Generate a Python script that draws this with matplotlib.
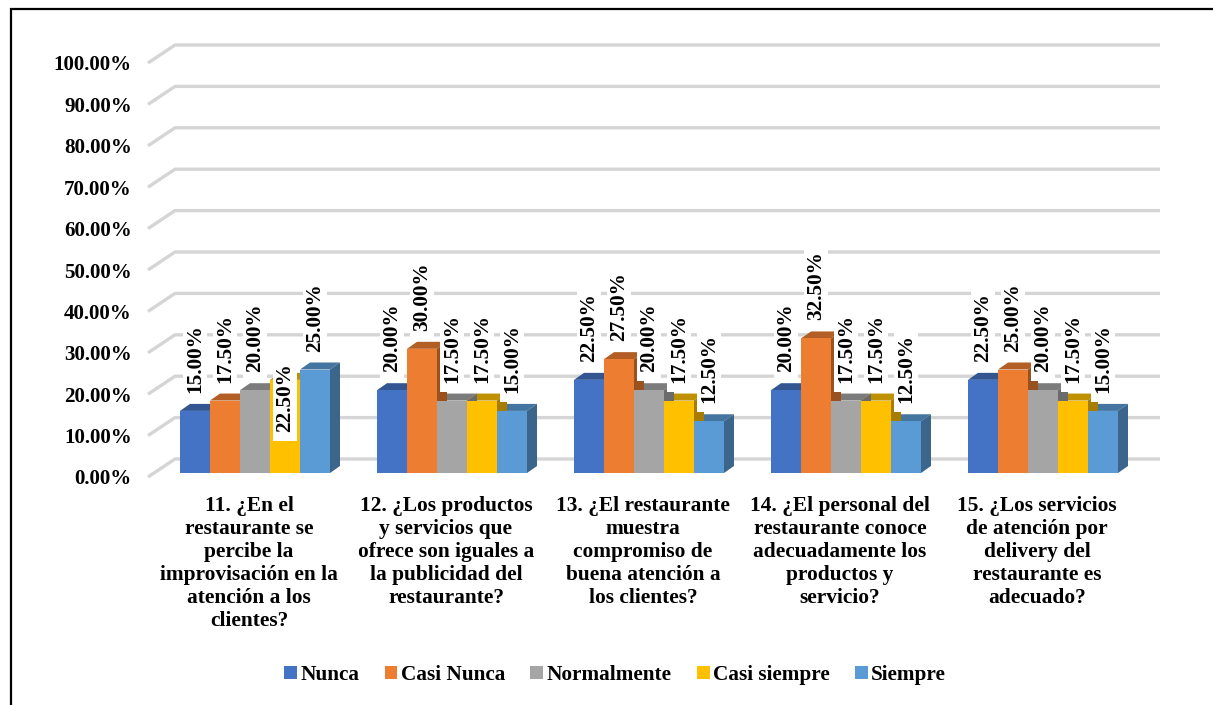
import numpy as np
import matplotlib
matplotlib.use('Agg')
import matplotlib.pyplot as plt
from matplotlib.patches import Polygon, Patch, Rectangle
from matplotlib.ticker import FuncFormatter

plt.rcParams['font.family'] = ['Liberation Serif', 'DejaVu Serif']
plt.rcParams['font.weight'] = 'bold'

# data
categories = ["11. ¿En el\nrestaurante se\npercibe la\nimprovisación en la\natención a los\nclientes?",
              "12. ¿Los productos\ny servicios que\nofrece son iguales a\nla publicidad del\nrestaurante?",
              "13. ¿El restaurante\nmuestra\ncompromiso de\nbuena atención a\nlos clientes?",
              "14. ¿El personal del\nrestaurante conoce\nadecuadamente los\nproductos y\nservicio?",
              "15. ¿Los servicios\nde atención por\ndelivery del\nrestaurante es\nadecuado?"]
series = ["Nunca", "Casi Nunca", "Normalmente", "Casi siempre", "Siempre"]
nunca = [15.0, 20.0, 22.5, 20.0, 22.5]
casi_nunca = [17.5, 30.0, 27.5, 32.5, 25.0]
normalmente = [20.0, 17.5, 20.0, 17.5, 20.0]
casi_siempre = [22.5, 17.5, 17.5, 17.5, 17.5]
siempre = [25.0, 15.0, 12.5, 12.5, 15.0]
values = [nunca, casi_nunca, normalmente, casi_siempre, siempre]
colors = ['#4472C4', '#ED7D31', '#A5A5A5', '#FFC000', '#5B9BD5']
yticks = np.arange(0, 101, 10)

# layout (pixel based scale: 197 px per group, 4.14 px per %)
PX = 197.0
PY = 4.14
w = 30 / PX            # bar width
ddx, ddy = 10 / PX, 7 / PY    # bar depth
bdx, bdy = 27 / PX, 18 / PY   # back wall offset
base = 4 / PY          # bars sit a bit behind the front plane
lab_gap = 18 / PY

def shade(c, f):
    r, g, b = matplotlib.colors.to_rgb(c)
    return (r * f, g * f, b * f)

fig = plt.figure(figsize=(12.13, 7.05), dpi=100)
ax = fig.add_axes([140 / 1213, (705 - 480) / 705, (1170 - 140) / 1213, 440 / 705])
ax.set_xlim((140 - 255) / PX, (1170 - 255) / PX)
ax.set_ylim(-3 / PY, (477 - 40) / PY)

# gridlines (front diagonal + back wall)
gx0 = (148 - 255) / PX
gx1 = (1160 - 255) / PX
for v in yticks:
    ax.plot([gx0, gx0 + bdx, gx1], [v, v + bdy, v + bdy], color='#d5d5d5', lw=2.4,
            solid_capstyle='butt', zorder=0)

x = np.arange(len(categories))
for j, (name, vals, col) in enumerate(zip(series, values, colors)):
    xs = x + (j - 2) * w
    ax.bar(xs, vals, w, bottom=base, color=col, zorder=3, linewidth=0)
    for xc, v in zip(xs, vals):
        x0, x1 = xc - w / 2, xc + w / 2
        h = base + v
        top = Polygon([(x0, h), (x1, h), (x1 + ddx, h + ddy), (x0 + ddx, h + ddy)],
                      closed=True, facecolor=shade(col, 0.75), edgecolor='none', zorder=1)
        side = Polygon([(x1, base), (x1, h), (x1 + ddx, h + ddy), (x1 + ddx, base + ddy)],
                       closed=True, facecolor=shade(col, 0.65), edgecolor='none', zorder=2)
        ax.add_patch(top)
        ax.add_patch(side)

# data labels
label_shift = {(3, 0): -17.0}
labels = []
for j, vals in enumerate(values):
    xs = x + (j - 2) * w
    for i, (xc, v) in enumerate(zip(xs, vals)):
        y = base + v + lab_gap + label_shift.get((j, i), 0)
        t = ax.text(xc, y, f"{v:.2f}%", rotation=90, ha='center', va='bottom',
                    fontsize=15.3, fontweight='bold', zorder=7)
        labels.append(t)

# white label backgrounds
fig.canvas.draw()
rend = fig.canvas.get_renderer()
inv = ax.transData.inverted()
for t in labels:
    bb = t.get_window_extent(rend)
    (ax0, ay0) = inv.transform((bb.x0 - 2, bb.y0 - 9))
    (ax1, ay1) = inv.transform((bb.x1 + 2, bb.y1 + 6))
    ax.add_patch(Rectangle((ax0, ay0), ax1 - ax0, ay1 - ay0, facecolor='white',
                           edgecolor='none', zorder=5))

for s in ax.spines.values():
    s.set_visible(False)
ax.set_yticks(yticks)
ax.yaxis.set_major_formatter(FuncFormatter(lambda v, p: f"{v:.2f}%"))
ax.tick_params(axis='y', length=0, pad=6, labelsize=15.1)
ax.set_xticks([])

# category labels
for xc, cat in zip(x - 6 / PX, categories):
    ax.text(xc, -0.036, cat, transform=ax.get_xaxis_transform(), ha='center', va='top',
            multialignment='center', linespacing=1.2, fontsize=15.4, fontweight='bold')

handles = [Patch(facecolor=c, edgecolor='none', label=n) for n, c in zip(series, colors)]
fig.legend(handles=handles, loc='center', bbox_to_anchor=(615 / 1213, 1 - 675 / 705),
           ncol=5, frameon=False, handlelength=0.6, handleheight=0.6, handletextpad=0.15,
           columnspacing=1.2, prop={'family': 'Liberation Serif', 'weight': 'bold', 'size': 15.3})

# outer frame (cropped at right and bottom)
fig.add_artist(Rectangle((11 / 1213, -0.1), 1.2, 1.1 - 9 / 705, transform=fig.transFigure,
                         fill=False, edgecolor='black', lw=1.6))

fig.savefig('out.png', dpi=100)
